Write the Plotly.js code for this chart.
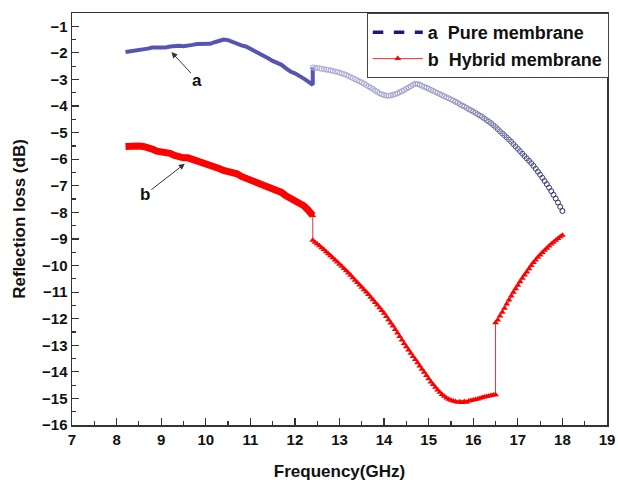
<!DOCTYPE html>
<html>
<head>
<meta charset="utf-8">
<script src="https://cdn.plot.ly/plotly-3.0.1.min.js"></script>
<style>html,body{margin:0;padding:0;background:#fff;}#chart{width:618px;height:485px;}</style>
</head>
<body>
<div id="chart"></div>
<script>
// Series a (Pure membrane), part 1: 8.2 - 12.4 GHz
const aFreq1 = [8.2,8.3,8.4,8.5,8.6,8.7,8.8,8.9,9.0,9.1,9.2,9.3,9.4,9.5,9.6,9.7,9.8,9.9,10.0,10.1,10.2,10.3,10.4,10.5,10.6,10.7,10.8,10.9,11.0,11.1,11.2,11.3,11.4,11.5,11.6,11.7,11.8,11.9,12.0,12.1,12.2,12.3,12.4,12.4];
const aRL1 = [-1.97,-1.95,-1.90,-1.88,-1.88,-1.84,-1.80,-1.80,-1.82,-1.80,-1.76,-1.73,-1.73,-1.75,-1.74,-1.70,-1.67,-1.66,-1.68,-1.66,-1.60,-1.53,-1.50,-1.52,-1.60,-1.68,-1.72,-1.76,-1.84,-1.95,-2.02,-2.08,-2.20,-2.30,-2.37,-2.45,-2.58,-2.70,-2.77,-2.85,-2.97,-3.08,-3.20,-2.55];

// Series a, part 2: 12.4 - 18 GHz
const aFreq2 = [12.40,12.45,12.50,12.55,12.60,12.65,12.70,12.75,12.80,12.85,12.90,12.95,13.00,13.05,13.10,13.15,13.20,13.25,13.30,13.35,13.40,13.45,13.50,13.55,13.60,13.65,13.70,13.75,13.80,13.85,13.90,13.95,14.00,14.05,14.10,14.15,14.20,14.25,14.30,14.35,14.40,14.45,14.50,14.55,14.60,14.65,14.70,14.75,14.80,14.85,14.90,14.95,15.00,15.05,15.10,15.15,15.20,15.25,15.30,15.35,15.40,15.45,15.50,15.55,15.60,15.65,15.70,15.75,15.80,15.85,15.90,15.95,16.00,16.05,16.10,16.15,16.20,16.25,16.30,16.35,16.40,16.45,16.50,16.55,16.60,16.65,16.70,16.75,16.80,16.85,16.90,16.95,17.00,17.05,17.10,17.15,17.20,17.25,17.30,17.35,17.40,17.45,17.50,17.55,17.60,17.65,17.70,17.75,17.80,17.85,17.90,17.95,18.00];
const aRL2 = [-2.55,-2.56,-2.57,-2.58,-2.60,-2.61,-2.63,-2.64,-2.66,-2.68,-2.70,-2.72,-2.74,-2.77,-2.80,-2.83,-2.87,-2.91,-2.95,-2.99,-3.03,-3.07,-3.11,-3.16,-3.21,-3.26,-3.31,-3.36,-3.42,-3.47,-3.52,-3.56,-3.59,-3.61,-3.61,-3.60,-3.58,-3.55,-3.52,-3.48,-3.44,-3.40,-3.35,-3.30,-3.25,-3.20,-3.16,-3.17,-3.20,-3.24,-3.28,-3.31,-3.35,-3.39,-3.43,-3.47,-3.51,-3.55,-3.59,-3.63,-3.67,-3.71,-3.75,-3.79,-3.84,-3.88,-3.93,-3.98,-4.02,-4.07,-4.12,-4.16,-4.21,-4.26,-4.31,-4.36,-4.41,-4.47,-4.53,-4.59,-4.65,-4.72,-4.79,-4.87,-4.95,-5.03,-5.10,-5.18,-5.26,-5.34,-5.43,-5.52,-5.61,-5.70,-5.79,-5.88,-5.97,-6.06,-6.15,-6.25,-6.36,-6.47,-6.58,-6.70,-6.82,-6.94,-7.07,-7.20,-7.34,-7.48,-7.63,-7.79,-7.95];

// Series b (Hybrid membrane), part 1: 8.2 - 12.4 GHz
const bFreq1 = [8.2,8.3,8.4,8.5,8.6,8.7,8.8,8.9,9.0,9.1,9.2,9.3,9.4,9.5,9.6,9.7,9.8,9.9,10.0,10.1,10.2,10.3,10.4,10.5,10.6,10.7,10.8,10.9,11.0,11.1,11.2,11.3,11.4,11.5,11.6,11.7,11.8,11.9,12.0,12.1,12.2,12.3,12.4];
const bRL1 = [-5.52,-5.50,-5.50,-5.50,-5.52,-5.55,-5.62,-5.70,-5.72,-5.72,-5.78,-5.86,-5.92,-5.95,-5.95,-6.00,-6.08,-6.15,-6.18,-6.20,-6.25,-6.35,-6.42,-6.45,-6.48,-6.55,-6.65,-6.72,-6.76,-6.80,-6.88,-6.98,-7.05,-7.10,-7.15,-7.25,-7.38,-7.48,-7.55,-7.62,-7.75,-7.92,-8.12];

// Series b, part 2: 12.4 - 18 GHz
const bFreq2 = [12.40,12.40,12.45,12.50,12.55,12.60,12.65,12.70,12.75,12.80,12.85,12.90,12.95,13.00,13.05,13.10,13.15,13.20,13.25,13.30,13.35,13.40,13.45,13.50,13.55,13.60,13.65,13.70,13.75,13.80,13.85,13.90,13.95,14.00,14.05,14.10,14.15,14.20,14.25,14.30,14.35,14.40,14.45,14.50,14.55,14.60,14.65,14.70,14.75,14.80,14.85,14.90,14.95,15.00,15.05,15.10,15.15,15.20,15.25,15.30,15.35,15.40,15.45,15.50,15.55,15.60,15.65,15.70,15.75,15.80,15.85,15.90,15.95,16.00,16.05,16.10,16.15,16.20,16.25,16.30,16.35,16.40,16.45,16.50,16.50,16.55,16.60,16.65,16.70,16.75,16.80,16.85,16.90,16.95,17.00,17.05,17.10,17.15,17.20,17.25,17.30,17.35,17.40,17.45,17.50,17.55,17.60,17.65,17.70,17.75,17.80,17.85,17.90,17.95,18.00];
const bRL2 = [-8.12,-9.05,-9.12,-9.19,-9.26,-9.33,-9.40,-9.48,-9.56,-9.63,-9.71,-9.79,-9.87,-9.95,-10.03,-10.11,-10.20,-10.28,-10.37,-10.46,-10.55,-10.64,-10.73,-10.82,-10.91,-11.00,-11.09,-11.19,-11.29,-11.39,-11.49,-11.59,-11.69,-11.80,-11.92,-12.04,-12.16,-12.28,-12.41,-12.54,-12.67,-12.80,-12.93,-13.06,-13.18,-13.30,-13.42,-13.54,-13.66,-13.78,-13.90,-14.02,-14.14,-14.26,-14.38,-14.48,-14.58,-14.68,-14.77,-14.85,-14.92,-14.98,-15.03,-15.07,-15.10,-15.12,-15.14,-15.13,-15.15,-15.12,-15.14,-15.10,-15.08,-15.06,-15.04,-15.02,-14.99,-14.97,-14.95,-14.93,-14.91,-14.89,-14.87,-14.86,-12.15,-12.05,-11.90,-11.76,-11.61,-11.45,-11.30,-11.15,-11.01,-10.87,-10.74,-10.61,-10.48,-10.36,-10.24,-10.12,-10.00,-9.89,-9.79,-9.69,-9.60,-9.51,-9.43,-9.35,-9.27,-9.19,-9.12,-9.05,-8.98,-8.92,-8.86];

const legendNames = ['a  Pure membrane', 'b  Hybrid membrane'];
const xTitle = 'Frequency(GHz)';
const yTitle = 'Reflection loss (dB)';

const font = 'Liberation Sans, Arial, sans-serif';

const traces = [
  {x: aFreq1, y: aRL1, mode: 'lines', line: {color: '#5656b2', width: 4}, showlegend: false, hoverinfo: 'skip'},
  {x: aFreq2, y: aRL2, mode: 'markers', showlegend: false,
   marker: {symbol: 'circle-open', size: 5, color: aFreq2, cmin: 12.4, cmax: 18,
            colorscale: [[0, '#aeaed8'], [0.55, '#9a9ac8'], [1, '#262668']], line: {width: 1}}},
  {x: bFreq1, y: bRL1, mode: 'lines', line: {color: '#ff0000', width: 7}, showlegend: false},
  {x: [null], y: [null], mode: 'lines', name: legendNames[0], line: {color: '#1a1a7c', width: 3.5, dash: 'dash'}},
  {x: bFreq2, y: bRL2, mode: 'lines+markers', name: legendNames[1],
   line: {color: '#f03030', width: 1}, marker: {symbol: 'triangle-up', size: 6, color: '#ff0000'}}
];

const axisCommon = {
  showline: true, mirror: true, linecolor: '#333', linewidth: 1.5,
  ticks: 'inside', ticklen: 7, tickwidth: 1.2, tickcolor: '#333',
  showgrid: false, zeroline: false,
  tickfont: {family: font, size: 15, color: '#111', weight: 'bold'}
};

const layout = {
  width: 618, height: 485,
  margin: {l: 72, r: 10, t: 13, b: 60},
  paper_bgcolor: '#fff', plot_bgcolor: '#fff',
  xaxis: Object.assign({}, axisCommon, {
    range: [7, 19], dtick: 1, tick0: 7,
    minor: {dtick: 0.5, ticks: 'inside', ticklen: 4, tickcolor: '#333'},
    title: {text: xTitle, font: {family: font, size: 17, color: '#111', weight: 'bold'}, standoff: 18}
  }),
  yaxis: Object.assign({}, axisCommon, {
    range: [-16, -0.5], dtick: 1, tick0: -16,
    minor: {dtick: 0.5, ticks: 'inside', ticklen: 4, tickcolor: '#333'},
    title: {text: yTitle, font: {family: font, size: 17, color: '#111', weight: 'bold'}, standoff: 12}
  }),
  legend: {
    x: 0.55, y: 1, xanchor: 'left', yanchor: 'top',
    bgcolor: '#fff', bordercolor: '#444', borderwidth: 1,
    font: {family: font, size: 18, color: '#111', weight: 'bold'},
    itemwidth: 50, tracegroupgap: 0
  },
  annotations: [
    {x: 9.23, y: -1.97, text: 'a', ax: 26, ay: 28, showarrow: true, arrowhead: 2, arrowsize: 1.2,
     arrowwidth: 1, arrowcolor: '#333', font: {family: font, size: 17, color: '#111', weight: 'bold'}},
    {x: 9.53, y: -6.17, text: 'b', ax: -40, ay: 31, showarrow: true, arrowhead: 2, arrowsize: 1.2,
     arrowwidth: 1, arrowcolor: '#333', font: {family: font, size: 17, color: '#111', weight: 'bold'}}
  ]
};

Plotly.newPlot('chart', traces, layout, {displayModeBar: false, staticPlot: true});
</script>
</body>
</html>
